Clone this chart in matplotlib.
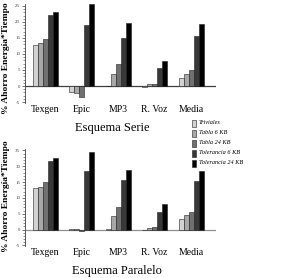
import matplotlib
matplotlib.use("Agg")
import matplotlib.pyplot as plt
import numpy as np
from matplotlib.ticker import MultipleLocator, FixedLocator
from matplotlib.patches import Rectangle

categories = ["Texgen", "Epic", "MP3", "R. Voz", "Media"]
series = ["Triviales", "Tabla 6 KB", "Tabla 24 KB", "Tolerancia 6 KB", "Tolerancia 24 KB"]
colors = ["#d2d2d2", "#a8a8a8", "#707070", "#383838", "#000000"]

serie_triviales = [12.7, -2.0, 0.0, -0.2, 2.6]
serie_tabla6 = [13.3, -2.3, 3.9, 0.7, 3.8]
serie_tabla24 = [14.8, -3.3, 6.8, 0.5, 5.0]
serie_tol6 = [22.1, 19.0, 15.1, 5.5, 15.7]
serie_tol24 = [23.2, 25.7, 19.7, 7.8, 19.4]

par_triviales = [13.2, 0.3, 0.3, 0.0, 3.5]
par_tabla6 = [13.6, 0.2, 4.3, 0.5, 4.7]
par_tabla24 = [15.1, -0.4, 7.2, 0.7, 5.6]
par_tol6 = [21.6, 18.5, 15.6, 5.6, 15.4]
par_tol24 = [22.7, 24.5, 18.9, 8.1, 18.5]

top_ticks = [-5, 0, 5, 10, 15, 20, 25]
top_ticklabels = ["-5", "0", "5", "10", "15", "20", "25"]
bot_ticks = [-5, 0, 5, 10, 15, 20, 25]
bot_ticklabels = ["-5", "0", "5", "10", "15", "30", "35"]

W, H = 282, 278
fig = plt.figure(figsize=(W / 100, H / 100), dpi=100)
serif = "Liberation Serif"


def make_axes(top_px, bottom_px):
    left, right = 25, 216
    return fig.add_axes([left / W, 1 - bottom_px / H, (right - left) / W, (bottom_px - top_px) / H])


def draw(ax, data, ticks, ticklabels, base_color, ylabel_center):
    x = np.arange(len(categories))
    n = len(series)
    bw = 0.137
    for i, vals in enumerate(data):
        ax.bar(x + (i - (n - 1) / 2) * bw, vals, width=bw, color=colors[i],
               edgecolor="#202020", linewidth=0.4, zorder=3)
    ax.set_xlim(-0.55, 4.68)
    ax.set_ylim(-5.3, 25.6)
    ax.axhline(0, color=base_color, linewidth=0.9, zorder=2)
    for s in ["top", "right", "bottom"]:
        ax.spines[s].set_visible(False)
    ax.spines["left"].set_linewidth(0.6)
    ax.spines["left"].set_color("#404040")
    ax.yaxis.set_major_locator(FixedLocator(ticks))
    ax.set_yticklabels(ticklabels, fontsize=3.5, family=serif)
    ax.yaxis.set_minor_locator(MultipleLocator(1))
    ax.tick_params(axis="y", which="major", length=2.5, width=0.5, pad=1, colors="#404040")
    ax.tick_params(axis="y", which="minor", length=1.2, width=0.4, colors="#404040")
    ax.set_xticks(x)
    ax.set_xticklabels(categories, fontsize=7, family=serif)
    ax.tick_params(axis="x", length=0, pad=1.5)
    ax.patch.set_alpha(0)
    fig.text(6 / W, 1 - ylabel_center / H, "% Ahorro Energía*Tiempo", rotation=90,
             fontsize=6.8, fontweight="bold", family=serif, ha="center", va="center")


serie_data = [serie_triviales, serie_tabla6, serie_tabla24, serie_tol6, serie_tol24]
par_data = [par_triviales, par_tabla6, par_tabla24, par_tol6, par_tol24]

ax1 = make_axes(4.0, 103.0)
draw(ax1, serie_data, top_ticks, top_ticklabels, "#404040", 58)
ax2 = make_axes(148.5, 246.4)
draw(ax2, par_data, bot_ticks, bot_ticklabels, "#909090", 196)

fig.text(112 / W, 1 - 128 / H, "Esquema Serie", fontsize=9, family=serif, ha="center", va="center")
fig.text(117 / W, 1 - 271 / H, "Esquema Paralelo", fontsize=9, family=serif, ha="center", va="center")

for i, (name, c) in enumerate(zip(series, colors)):
    y = 123 + i * 10
    fig.patches.append(Rectangle((192 / W, 1 - (y + 3.5) / H), 4 / W, 7 / H,
                                 transform=fig.transFigure, facecolor=c,
                                 edgecolor="#202020", linewidth=0.4))
    fig.text(199 / W, 1 - y / H, name, fontsize=4.5, style="italic", family=serif,
             ha="left", va="center")

fig.savefig("out.png", dpi=100)
